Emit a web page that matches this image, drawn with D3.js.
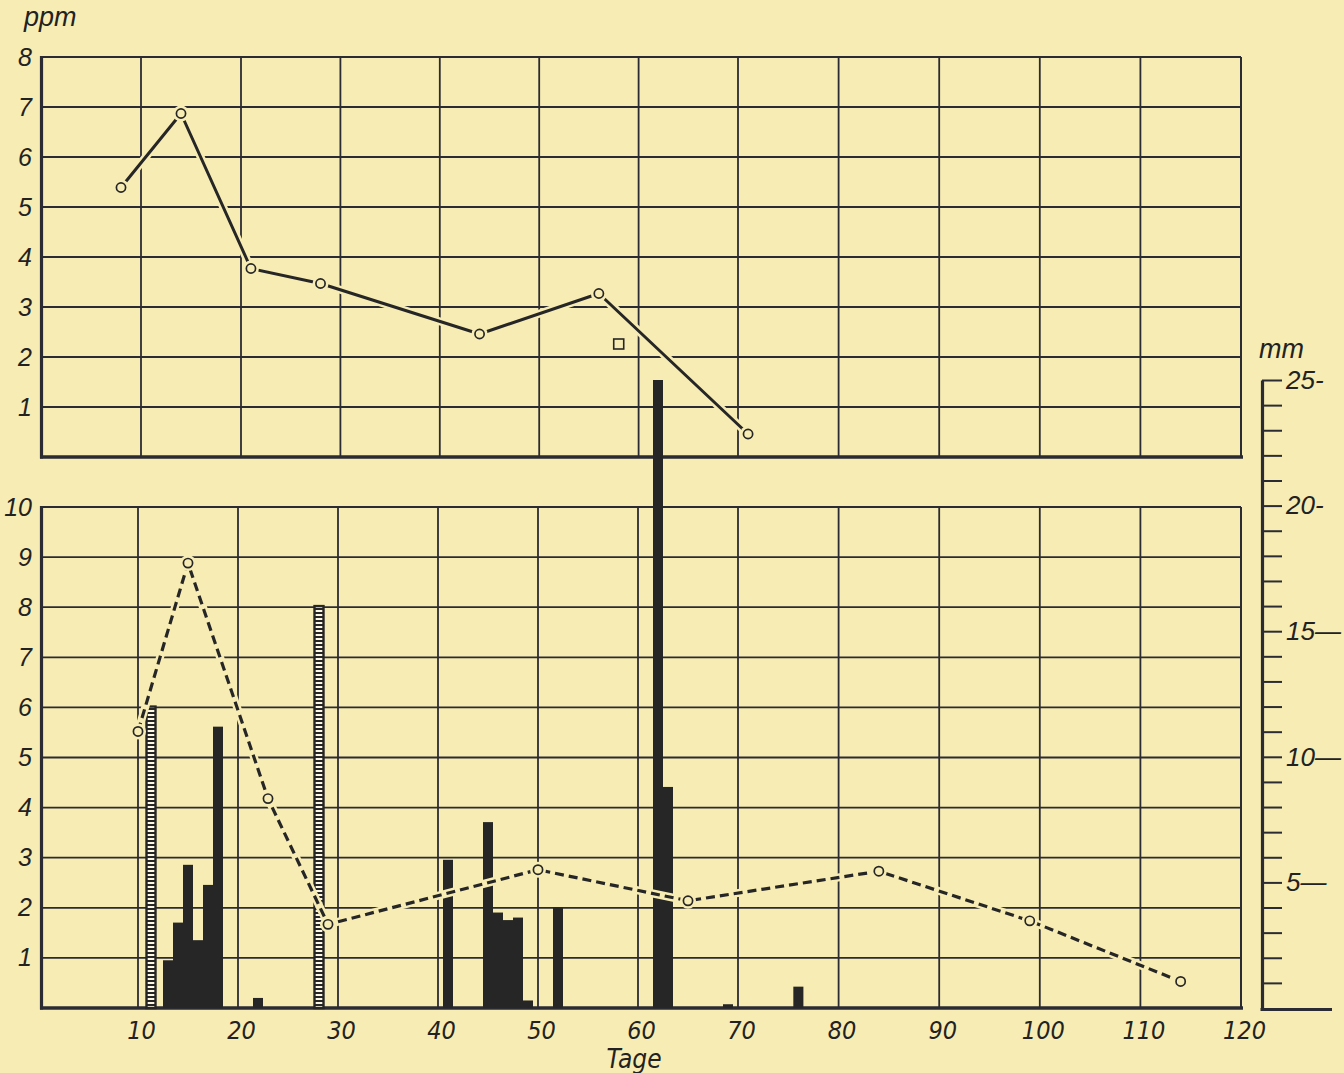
<!DOCTYPE html>
<html><head><meta charset="utf-8">
<script src="https://cdn.jsdelivr.net/npm/d3@7"></script>
<style>
html,body{margin:0;padding:0;background:#f7edb6;}
svg{display:block;}
text{font-family:"Liberation Sans","DejaVu Sans",sans-serif;font-style:italic;fill:#222;}
.narrow text, text.narrow{font-family:"DejaVu Sans",sans-serif;font-stretch:condensed;}
</style></head><body>
<svg id="chart" width="1344" height="1073"></svg>
<script>
// ---- data ----
const ppmDays = [8, 14, 21, 28, 44, 56, 71];
const ppmValues = [5.39, 6.87, 3.77, 3.47, 2.46, 3.27, 0.46];
const extraDays = [58];
const extraValues = [2.26];
const dashDays = [10, 15, 23, 29, 50, 65, 84, 99, 114];
const dashValues = [5.52, 8.88, 4.18, 1.67, 2.76, 2.14, 2.73, 1.74, 0.53];
const rainDays = [13, 14, 15, 16, 17, 18, 22, 41, 45, 46, 47, 48, 49, 52, 62, 63, 69, 76];
const rainMm = [1.9, 3.4, 5.7, 2.7, 4.9, 11.2, 0.4, 5.9, 7.4, 3.8, 3.5, 3.6, 0.3, 4.0, 25.0, 8.8, 0.15, 0.85];
const stripedDays = [11.3, 28.1];
const stripedMm = [12.0, 16.0];
const xTicks = [10, 20, 30, 40, 50, 60, 70, 80, 90, 100, 110, 120];
const topTicks = [1, 2, 3, 4, 5, 6, 7, 8];
const bottomTicks = [1, 2, 3, 4, 5, 6, 7, 8, 9, 10];
const mmTicks = d3.range(1, 26);
const mmLabelValues = [5, 10, 15, 20, 25];
const mmLabelTexts = ["5—", "10—", "15—", "20-", "25-"];

const BG = "#f7ecb3", INK = "#262626", GRID = "#2b2b33";
const svg = d3.select("#chart");
svg.append("rect").attr("width", 1344).attr("height", 1073).attr("fill", BG);

const defs = svg.append("defs");
const pat = defs.append("pattern").attr("id", "stripes").attr("patternUnits", "userSpaceOnUse")
  .attr("width", 20).attr("height", 4);
pat.append("rect").attr("width", 20).attr("height", 4).attr("fill", INK);
pat.append("rect").attr("y", 2).attr("width", 20).attr("height", 2).attr("fill", "#fbf7e2");

// ---- scales ----
const xTop = d3.scaleLinear().domain([0, 20, 70, 120]).range([41, 241, 738, 1241]);
const xBot = d3.scaleLinear().domain([0, 70, 120]).range([38, 738, 1241]);
const yTop = d3.scaleLinear().domain([0, 8]).range([457, 57]);
const yBot = d3.scaleLinear().domain([0, 10]).range([1008, 507]);
const yMm = d3.scaleLinear().domain([0, 25]).range([1008, 380]);

// ---- grids ----
function grid(x, y, vTicks, hTicks) {
  const g = svg.append("g").attr("stroke", GRID).attr("stroke-width", 1.8);
  const [y0, y1] = y.range();
  g.selectAll(".v").data(vTicks).join("line")
    .attr("x1", d => x(d)).attr("x2", d => x(d)).attr("y1", y0).attr("y2", y1);
  g.selectAll(".h").data(hTicks).join("line")
    .attr("x1", 41).attr("x2", 1241).attr("y1", d => y(d)).attr("y2", d => y(d));
}
grid(xTop, yTop, xTicks.slice(0, -1), topTicks.slice(0, -1));
grid(xBot, yBot, xTicks.slice(0, -1), bottomTicks.slice(0, -1));

// frames
function frame(yS) {
  const [yb, yt] = yS.range();
  const g = svg.append("g").attr("stroke", GRID).attr("fill", "none");
  g.append("line").attr("x1", 41).attr("x2", 1241).attr("y1", yt).attr("y2", yt).attr("stroke-width", 2);
  g.append("line").attr("x1", 1241).attr("x2", 1241).attr("y1", yt).attr("y2", yb).attr("stroke-width", 2);
  g.append("line").attr("x1", 41.5).attr("x2", 41.5).attr("y1", yt - 1).attr("y2", yb + 1.5).attr("stroke-width", 3.2);
  g.append("line").attr("x1", 40).attr("x2", 1243).attr("y1", yb).attr("y2", yb).attr("stroke-width", 3.4);
}
frame(yTop);
frame(yBot);

// ---- bars ----
const rain = rainDays.map((d, i) => ({ d, v: rainMm[i] }));
svg.append("g").selectAll("rect").data(rain).join("rect")
  .attr("x", d => xBot(d.d - 0.5)).attr("width", d => xBot(d.d + 0.5) - xBot(d.d - 0.5))
  .attr("y", d => yMm(d.v)).attr("height", d => yMm(0) - yMm(d.v))
  .attr("fill", INK);

const striped = stripedDays.map((d, i) => ({ d, v: stripedMm[i] }));
svg.append("g").selectAll("rect").data(striped).join("rect")
  .attr("x", d => xBot(d.d - 0.45)).attr("width", d => xBot(d.d + 0.45) - xBot(d.d - 0.45))
  .attr("y", d => yMm(d.v)).attr("height", d => yMm(0) - yMm(d.v))
  .attr("fill", "url(#stripes)").attr("stroke", INK).attr("stroke-width", 2.4);

// ---- lines ----
const topPts = ppmDays.map((d, i) => [xTop(d), yTop(ppmValues[i])]);
const botPts = dashDays.map((d, i) => [xBot(d), yBot(dashValues[i])]);
const lineGen = d3.line();

[topPts, botPts].forEach(pts => {
  svg.append("path").attr("d", lineGen(pts)).attr("fill", "none")
    .attr("stroke", BG).attr("stroke-width", 8).attr("stroke-linejoin", "round");
});
svg.append("path").attr("d", lineGen(topPts)).attr("fill", "none")
  .attr("stroke", INK).attr("stroke-width", 3).attr("stroke-linejoin", "round");
svg.append("path").attr("d", lineGen(botPts)).attr("fill", "none")
  .attr("stroke", INK).attr("stroke-width", 3.2).attr("stroke-dasharray", "9,5");

const allPts = topPts.concat(botPts);
svg.append("g").selectAll("circle").data(allPts).join("circle")
  .attr("cx", d => d[0]).attr("cy", d => d[1]).attr("r", 8).attr("fill", BG);
svg.append("g").selectAll("circle").data(allPts).join("circle")
  .attr("cx", d => d[0]).attr("cy", d => d[1]).attr("r", 4.6)
  .attr("fill", BG).attr("stroke", INK).attr("stroke-width", 1.7);

const extra = extraDays.map((d, i) => [xTop(d), yTop(extraValues[i])]);
svg.append("g").selectAll("rect").data(extra).join("rect")
  .attr("x", d => d[0] - 5).attr("y", d => d[1] - 5).attr("width", 10).attr("height", 10)
  .attr("fill", "none").attr("stroke", INK).attr("stroke-width", 1.6);

// ---- axes ----
const axTop = svg.append("g").attr("transform", "translate(41,0)")
  .call(d3.axisLeft(yTop).tickValues(topTicks).tickSize(0).tickPadding(9).tickFormat(d3.format("d")));
const axBot = svg.append("g").attr("transform", "translate(41,0)")
  .call(d3.axisLeft(yBot).tickValues(bottomTicks).tickSize(0).tickPadding(9).tickFormat(d3.format("d")));
[axTop, axBot].forEach(a => {
  a.select(".domain").remove();
  a.selectAll("text").attr("font-size", 25).attr("font-family", null).attr("fill", "#222");
});

const axX = svg.append("g").attr("class", "narrow").attr("transform", "translate(0,1008)")
  .call(d3.axisBottom(xBot).tickValues(xTicks).tickSize(0).tickPadding(13).tickFormat(d3.format("d")));
axX.select(".domain").remove();
axX.selectAll("text").attr("font-size", 25).attr("font-family", null).attr("fill", "#222")
  .attr("dx", 3);

const axMm = svg.append("g").attr("transform", "translate(1262,0)")
  .call(d3.axisRight(yMm).tickValues(mmTicks).tickSize(20).tickSizeOuter(0).tickPadding(4)
    .tickFormat(d => { const i = mmLabelValues.indexOf(d); return i >= 0 ? mmLabelTexts[i] : ""; }));
axMm.select(".domain").attr("stroke", GRID).attr("stroke-width", 3.2);
axMm.selectAll(".tick line").attr("stroke", GRID).attr("stroke-width", 2);
axMm.selectAll("text").attr("font-size", 26).attr("font-family", null).attr("fill", "#222");
svg.append("line").attr("x1", 1260.5).attr("x2", 1332).attr("y1", yMm(0) + 1.5).attr("y2", yMm(0) + 1.5)
  .attr("stroke", GRID).attr("stroke-width", 3.2);

// ---- titles ----
svg.append("text").attr("x", 24).attr("y", 26).attr("font-size", 27).text("ppm");
svg.append("text").attr("x", 1259).attr("y", 358).attr("font-size", 27).text("mm");
svg.append("text").attr("class", "narrow").attr("x", 634).attr("y", 1068).attr("text-anchor", "middle")
  .attr("font-size", 26).text("Tage");
</script>
</body></html>
